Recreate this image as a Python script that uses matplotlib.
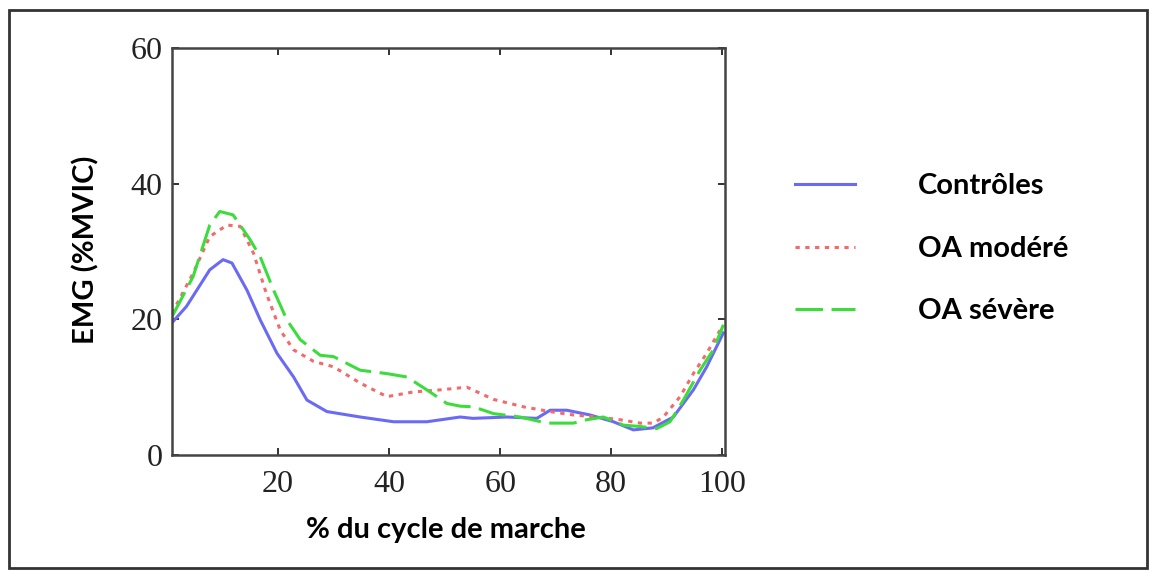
import matplotlib
matplotlib.use("Agg")
import matplotlib.pyplot as plt
from matplotlib.patches import Rectangle

# % du cycle de marche / EMG (%MVIC)
ctrl_x = [0.9, 3.5, 7.7, 10.1, 11.7, 14.4, 16.8, 19.8, 22.8, 25.2, 28.8, 34.8, 40.8, 46.8,
          52.8, 55.1, 61.2, 66.6, 69.0, 72.0, 76.2, 80.4, 84.0, 87.5, 91.2, 94.8, 97.2, 100.2]
ctrl_y = [19.5, 21.9, 27.3, 28.8, 28.3, 24.3, 19.9, 15.0, 11.5, 8.1, 6.4, 5.6, 4.9, 4.9,
          5.6, 5.4, 5.6, 5.4, 6.6, 6.6, 5.9, 4.9, 3.7, 4.0, 5.6, 9.6, 13.0, 18.0]

mod_x = [0.9, 4.7, 7.7, 10.8, 13.2, 15.6, 17.9, 20.4, 22.8, 26.4, 30.0, 34.8, 39.6, 44.4,
         49.2, 54.0, 58.8, 64.2, 69.0, 73.2, 77.4, 81.6, 85.2, 87.6, 89.4, 92.4, 94.8, 97.2, 99.6]
mod_y = [20.9, 26.8, 32.2, 33.9, 33.7, 29.7, 23.8, 18.4, 15.5, 13.8, 13.0, 10.6, 8.6, 9.3,
         9.6, 10.0, 8.2, 7.1, 6.4, 5.9, 5.6, 5.2, 4.7, 4.7, 5.6, 8.6, 12.0, 15.0, 18.4]

sev_x = [0.9, 4.7, 7.7, 9.5, 11.9, 15.0, 16.8, 19.2, 21.6, 24.0, 27.6, 30.0, 34.8, 39.6, 43.2,
         46.8, 50.4, 52.8, 55.2, 58.8, 63.6, 68.4, 73.2, 75.6, 78.6, 82.2, 85.2, 88.2, 90.6,
         93.0, 96.0, 98.4, 100.2]
sev_y = [20.4, 26.3, 33.9, 35.9, 35.4, 31.7, 29.2, 24.3, 19.9, 17.0, 14.7, 14.5, 12.5, 12.0, 11.5,
         9.6, 7.6, 7.2, 7.1, 6.1, 5.6, 4.7, 4.7, 5.2, 5.6, 4.4, 4.2, 3.9, 4.9,
         8.1, 12.5, 15.5, 19.2]

labels = ["Contrôles", "OA modéré", "OA sévère"]
xticks = [20, 40, 60, 80, 100]
yticks = [0, 20, 40, 60]

fig = plt.figure(figsize=(11.49, 5.75), dpi=100)
ax = fig.add_axes([0.1497, 0.2087, 0.4813, 0.7078])

ax.plot(ctrl_x, ctrl_y, color="#6a6af5", lw=2.2, label=labels[0])
ax.plot(mod_x, mod_y, color="#f26b6b", lw=2.2, linestyle=(0, (1.4, 1.8)), label=labels[1])
ax.plot(sev_x, sev_y, color="#3ddc3d", lw=2.2, linestyle=(0, (9, 2.8)), label=labels[2])

ax.set_xlim(0.9, 100.5)
ax.set_ylim(0, 60)
ax.set_xticks(xticks)
ax.set_yticks(yticks)
ax.tick_params(direction="in", top=True, right=True, length=5, width=1.4,
               color="#333333", labelsize=23)
ax.tick_params(axis="x", pad=11)
ax.tick_params(axis="y", pad=7)
for lab in ax.get_xticklabels() + ax.get_yticklabels():
    lab.set_family("Liberation Serif")
    lab.set_color("#222222")
for sp in ax.spines.values():
    sp.set_linewidth(1.8)
    sp.set_color("#444444")

ax.set_xlabel("% du cycle de marche", family="Lato", weight="bold", fontsize=21)
ax.set_ylabel("EMG (%MVIC)", family="Lato", weight="bold", fontsize=21)
ax.xaxis.set_label_coords(0.495, -0.152)
ax.yaxis.set_label_coords(-0.132, 0.504)

leg = fig.legend(loc="upper left", bbox_to_anchor=(0.669, 0.744), frameon=False,
                 prop={"family": "Lato", "weight": "bold", "size": 21},
                 handlelength=2.07, handletextpad=2.14, labelspacing=1.25)

# outer frame around the whole picture
fig.patches.append(Rectangle((0.008, 0.012), 0.99, 0.97, transform=fig.transFigure,
                             fill=False, edgecolor="#333333", lw=2))

fig.savefig("out.png", dpi=100)
